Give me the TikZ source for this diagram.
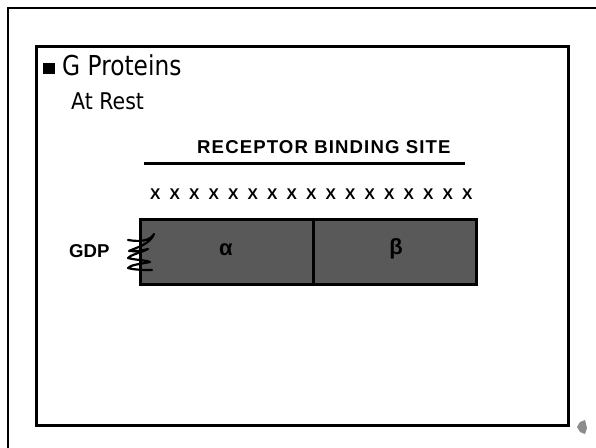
\documentclass[tikz,border=0pt]{standalone}
\usepackage{fontspec}
\setmainfont{DejaVu Sans}
\newfontfamily\arialb{Liberation Sans}
\newfontfamily\arialsp[LetterSpace=6]{Liberation Sans}
\newfontfamily\titlefont[FakeStretch=0.85]{DejaVu Sans}
\newfontfamily\restfont[FakeStretch=0.89]{DejaVu Sans}
\begin{document}
\begin{tikzpicture}[x=1pt,y=-1pt,
  frame/.style={draw=black,line width=2pt},
  inner/.style={draw=black,line width=3pt},
  subunit/.style={draw=black,line width=2.5pt,fill=black!65},
  lbl/.style={inner sep=0pt},
  xmark/.style={inner sep=0pt,anchor=base west,font=\arialb\bfseries\fontsize{15.5}{18}\selectfont},
  coil/.style={draw=black,line width=2.2pt,line cap=round,line join=round}]
\useasboundingbox (0,0) rectangle (596,447);
\fill[white] (0,0) rectangle (596,447);
% frames
\draw[frame] (8,460) -- (8,8) -- (600,8);
\draw[inner] (36,425) rectangle (568,46);
% title
\fill[black] (43,63) rectangle (55,74);
\node[anchor=base west,inner sep=0pt,font=\titlefont\fontsize{27.4}{30}\selectfont] (title) at (62,75) {G Proteins};
\node[anchor=base west,inner sep=0pt,font=\restfont\fontsize{23}{26}\selectfont] (rest) at (71,109) {At Rest};
% receptor binding site
\node[lbl,anchor=base west,font=\arialsp\bfseries\fontsize{18.6}{22}\selectfont] (rbs) at (197,153) {RECEPTOR BINDING SITE};
\coordinate (ls) at (144,163);
\coordinate (le) at (465,163);
\draw[line width=3pt] (ls) -- (le);
\foreach \i in {0,...,16} {
  \node[xmark] (x\i) at ({150+19.5*\i},199) {X};
}
% subunits
\node[subunit,minimum width=173pt,minimum height=65pt,anchor=north west,inner sep=0pt] (alpha) at (139,218) {};
\node[subunit,minimum width=163pt,minimum height=65pt,anchor=north west,inner sep=0pt] (beta) at (312,218) {};
\node[inner sep=0pt,anchor=base,font=\arialb\bfseries\fontsize{22}{24}\selectfont] (a) at (226,255) {α};
\node[inner sep=0pt,anchor=base,font=\arialb\bfseries\fontsize{22}{24}\selectfont] (b) at (396,254.5) {β};
\node[lbl,anchor=base west,font=\arialb\bfseries\fontsize{18.6}{20}\selectfont] (gdp) at (69,257) {GDP};
% coil
\draw[coil] (128,240) .. controls (140,242) and (150,241) .. (154,234)
  .. controls (150,244) and (138,247) .. (129,251)
  .. controls (136,252) and (144,250) .. (148,249)
  .. controls (140,253) and (130,255) .. (128,258)
  .. controls (135,260) and (145,260) .. (150,262)
  .. controls (140,264) and (130,265) .. (128,268)
  .. controls (135,270) and (145,270) .. (152,270);
\draw[coil] (141,234) -- (141,272);
% speaker icon
\fill[black!45] (580,422) -- (585,420) -- (587,428) -- (585,434) -- (580,432) -- (577,427) -- cycle;
\end{tikzpicture}
\end{document}
